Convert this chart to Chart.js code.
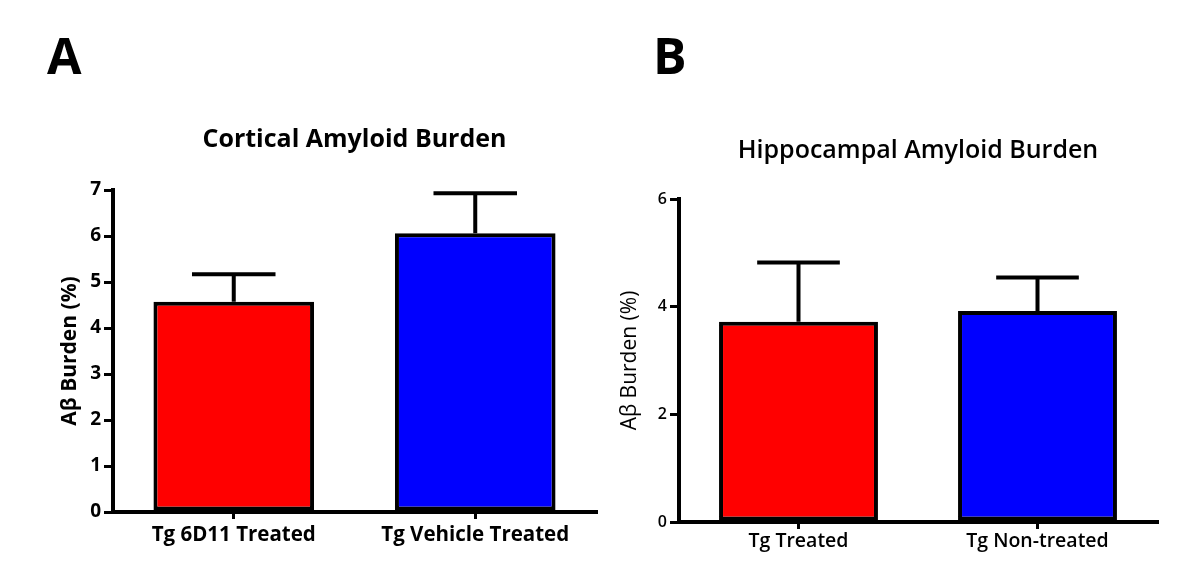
<!DOCTYPE html>
<html>
<head>
<meta charset="utf-8">
<script src="https://cdn.jsdelivr.net/npm/chart.js@4.4.0/dist/chart.umd.min.js"></script>
<style>
  body { margin: 0; background: #fff; font-family: 'Open Sans', sans-serif; }
  .panel { position: absolute; top: 0; width: 600px; height: 580px; }
  .letter { position: absolute; top: 21px; font: bold 50px 'Open Sans', sans-serif; color: #000; }
</style>
</head>
<body>
<div class="letter" style="left:47px">A</div>
<div class="letter" style="left:653px">B</div>
<div class="panel" style="left:0"><canvas id="chartA"></canvas></div>
<div class="panel" style="left:600px"><canvas id="chartB"></canvas></div>
<script>
// data
const cortLabels = ['Tg 6D11 Treated', 'Tg Vehicle Treated'];
const cortMeans = [4.57, 6.06];
const cortErr = [0.6, 0.87];

const hippLabels = ['Tg Treated', 'Tg Non-treated'];
const hippMeans = [3.72, 3.92];
const hippErr = [1.1, 0.62];

const barColors = ['#ff0000', '#0000ff'];

// simple error bar plugin (upper whisker only)
const errorBars = {
     id: 'errorBars',
     afterDatasetsDraw(chart, args, opts) {
          const ctx = chart.ctx;
          const y = chart.scales.y;
          const ds = chart.data.datasets[0];
          const meta = chart.getDatasetMeta(0);
          ctx.save();
          ctx.strokeStyle = '#000';
          ctx.lineWidth = opts.width;
          meta.data.forEach((bar, i) => {
               const top = y.getPixelForValue(ds.data[i] + opts.errors[i]);
               const half = bar.width * 0.26;
               ctx.beginPath();
               ctx.moveTo(bar.x, bar.y);
               ctx.lineTo(bar.x, top);
               ctx.moveTo(bar.x - half, top);
               ctx.lineTo(bar.x + half, top);
               ctx.stroke();
          });
          ctx.restore();
     }
};

function makeChart(id, cfg) {
     return new Chart(document.getElementById(id), {
          type: 'bar',
          data: {
               labels: cfg.labels,
               datasets: [{
                    data: cfg.means,
                    backgroundColor: barColors,
                    borderColor: '#000',
                    borderWidth: 4,
                    borderSkipped: false,
                    categoryPercentage: 1,
                    barPercentage: 0.665
               }]
          },
          options: {
               responsive: true,
               maintainAspectRatio: false,
               animation: false,
               layout: { padding: { left: 0, right: cfg.padRight, top: 0, bottom: 0 } },
               plugins: {
                    legend: { display: false },
                    tooltip: { enabled: false },
                    title: {
                         display: true,
                         text: cfg.title,
                         fullSize: false,
                         color: '#000',
                         font: { family: 'Open Sans', size: cfg.titleSize, weight: cfg.titleWeight },
                         padding: { top: cfg.titleTop, bottom: cfg.titleBottom }
                    },
                    errorBars: { errors: cfg.errors, width: 4 }
               },
               scales: {
                    x: {
                         offset: true,
                         grid: { offset: false, drawOnChartArea: false, drawTicks: true, tickLength: 7, lineWidth: 3, color: '#000' },
                         border: { display: true, width: 4, color: '#000' },
                         ticks: { color: '#000', padding: cfg.xPad, font: { family: 'Open Sans', size: cfg.xFont, weight: cfg.xWeight } },
                         afterFit: s => { s.height = cfg.xHeight; }
                    },
                    y: {
                         min: 0,
                         max: cfg.yMax,
                         ticks: { stepSize: cfg.yStep, color: '#000', padding: 3, font: { family: 'Open Sans', size: cfg.yFont, weight: cfg.xWeight } },
                         grid: { drawOnChartArea: false, drawTicks: true, tickLength: 9, lineWidth: 3, color: '#000' },
                         border: { display: true, width: 4, color: '#000' },
                         title: {
                              display: true,
                              text: 'Aβ Burden (%)',
                              color: '#000',
                              font: { family: 'Open Sans', size: cfg.yTitleSize, weight: cfg.yTitleWeight },
                              padding: { top: cfg.yTitlePad, bottom: 0 }
                         },
                         afterFit: s => { s.width = cfg.yWidth; }
                    }
               }
          },
          plugins: [errorBars]
     });
}

makeChart('chartA', {
     labels: cortLabels, means: cortMeans, errors: cortErr,
     title: 'Cortical Amyloid Burden', titleSize: 25, titleWeight: 'bold', titleTop: 125, titleBottom: 35,
     yMax: 7, yStep: 1, yFont: 19, xFont: 20.5, xWeight: 'bold', xPad: 4,
     yTitleSize: 21, yTitleWeight: 'bold', yTitlePad: 57,
     yWidth: 113, xHeight: 68, padRight: 4
});

makeChart('chartB', {
     labels: hippLabels, means: hippMeans, errors: hippErr,
     title: 'Hippocampal Amyloid Burden', titleSize: 25, titleWeight: '600', titleTop: 136, titleBottom: 33,
     yMax: 6, yStep: 2, yFont: 16, xFont: 19.5, xWeight: '600', xPad: 1,
     yTitleSize: 21, yTitleWeight: 'normal', yTitlePad: 17,
     yWidth: 79, xHeight: 58, padRight: 43
});
</script>
</body>
</html>
